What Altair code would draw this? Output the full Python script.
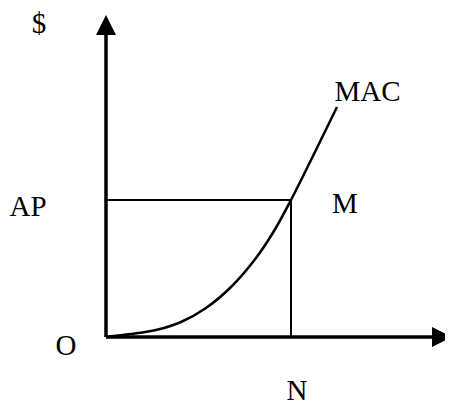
import altair as alt
import pandas as pd

# Diagram values (units: one per pixel of the original drawing, origin O)
curve_x = [0, 25, 50, 75, 100, 125, 150, 168, 185, 208, 231]
curve_y = [0, 3, 7, 15, 29, 50, 79, 106, 137, 183, 230]

axis_seg = ["y", "y", "x", "x"]
axis_x = [0, 0, 0, 327]
axis_y = [0, 302, 0, 0]

box_seg = ["h", "h", "v", "v"]
box_x = [0, 185, 185, 185]
box_y = [137, 137, 137, 0]

arrow_x = [0, 336]
arrow_y = [312, 0]
arrow_shape = ["M0,-1L1,1L-1,1Z", "M1,0L-1,-1L-1,1Z"]

labels = ["$", "AP", "O", "M", "N", "MAC"]
label_x = [-67, -78, -40, 239, 191, 261.5]
label_y = [304, 121, -18, 124, -63, 236]

xs = alt.Scale(domain=[-98, 339], nice=False, zero=False)
ys = alt.Scale(domain=[-70, 329], nice=False, zero=False)

def X(f):
    return alt.X(f, type="quantitative", scale=xs, axis=None)

def Y(f):
    return alt.Y(f, type="quantitative", scale=ys, axis=None)

curve_df = pd.DataFrame({"x": curve_x, "y": curve_y})
axis_df = pd.DataFrame({"seg": axis_seg, "x": axis_x, "y": axis_y, "o": range(4)})
box_df = pd.DataFrame({"seg": box_seg, "x": box_x, "y": box_y, "o": range(4)})
arrow_df = pd.DataFrame({"x": arrow_x, "y": arrow_y, "shape": arrow_shape})
label_df = pd.DataFrame({"t": labels, "x": label_x, "y": label_y})

curve = alt.Chart(curve_df).mark_line(
    color="black", strokeWidth=2.5, interpolate="catmull-rom"
).encode(x=X("x"), y=Y("y"), order="x:Q")

axes = alt.Chart(axis_df).mark_line(color="black", strokeWidth=3.5).encode(
    x=X("x"), y=Y("y"), detail="seg:N", order="o:Q"
)

box = alt.Chart(box_df).mark_line(color="black", strokeWidth=2).encode(
    x=X("x"), y=Y("y"), detail="seg:N", order="o:Q"
)

arrows = alt.Chart(arrow_df).mark_point(
    filled=True, color="black", opacity=1, size=400, strokeWidth=0
).encode(
    x=X("x"), y=Y("y"),
    shape=alt.Shape("shape:N", scale=None, legend=None),
)

text = alt.Chart(label_df).mark_text(
    font="Liberation Serif", fontSize=29, color="black",
    align="center", baseline="alphabetic"
).encode(x=X("x"), y=Y("y"), text="t:N")

chart = alt.layer(axes, box, curve, arrows, text).properties(
    width=437, height=399, padding=0, autosize=alt.AutoSizeParams(type="none")
).configure_view(stroke=None)

chart.save("out.html", embed_options={"renderer": "svg", "actions": False})
